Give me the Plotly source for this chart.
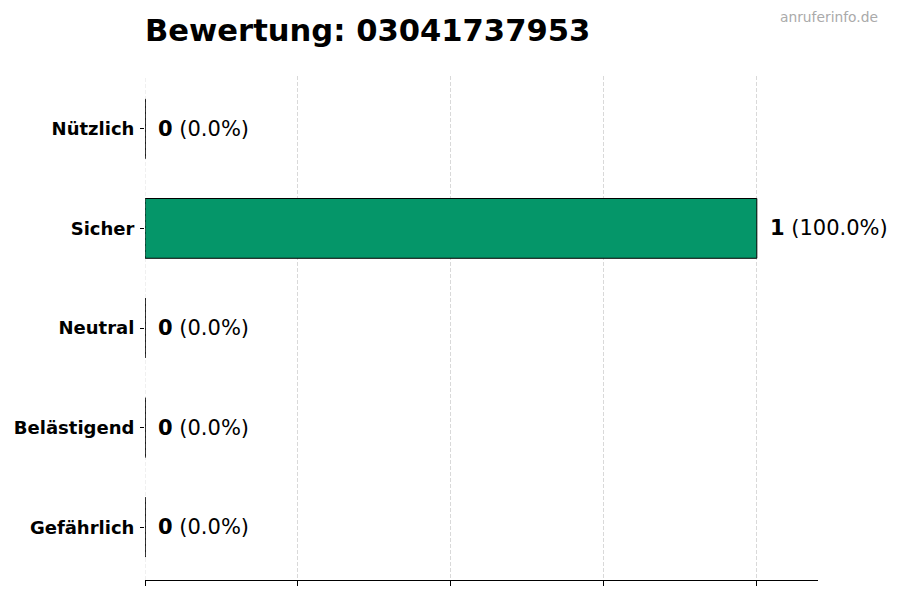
import plotly.graph_objects as go

# Data (top-to-bottom order as shown)
categories = ["Nützlich", "Sicher", "Neutral", "Belästigend", "Gefährlich"]
counts = [0, 1, 0, 0, 0]
percents = [0.0, 100.0, 0.0, 0.0, 0.0]
bar_colors = ["#3b82f6", "#059669", "#9ca3af", "#f59e0b", "#dc2626"]
x_ticks = [0, 0.25, 0.5, 0.75, 1.0]
title_text = "Bewertung: 03041737953"
watermark = "anruferinfo.de"

FONT = "DejaVu Sans"
BAR_W = 0.6
GRID = "rgba(170,170,170,0.45)"

n = len(categories)
ypos = [n - 1 - i for i in range(n)]

fig = go.Figure()
fig.add_trace(go.Bar(
    x=counts, y=ypos, orientation="h", width=BAR_W,
    marker=dict(color=bar_colors, line=dict(color="black", width=1)),
    hoverinfo="skip", showlegend=False,
))

# outlines of zero-width bars (matplotlib still draws their edge)
lx, ly = [], []
for v, y in zip(counts, ypos):
    if v == 0:
        lx += [v, v, None]
        ly += [y - BAR_W / 2, y + BAR_W / 2, None]
fig.add_trace(go.Scatter(x=lx, y=ly, mode="lines",
                         line=dict(color="black", width=1),
                         hoverinfo="skip", showlegend=False))

for v, p, y in zip(counts, percents, ypos):
    fig.add_annotation(x=v, y=y, xref="x", yref="y", xanchor="left",
                       yanchor="middle", xshift=11, showarrow=False,
                       text=f"<b>{v}</b> ({p:.1f}%)",
                       font=dict(family=FONT, size=21, color="black"))

# gridline at x = 0 (plotly omits the one on the range edge)
fig.add_shape(type="line", xref="x", yref="paper", x0=x_ticks[0], x1=x_ticks[0],
              y0=0, y1=1, layer="above",
              line=dict(color=GRID, width=0.8, dash="4px,2px"))

fig.add_annotation(xref="paper", yref="paper", x=1 + 62 / 673, y=1 + 59 / 504,
                   xanchor="right", yanchor="middle", showarrow=False,
                   text=watermark,
                   font=dict(family=FONT, size=13.8, color="#aaaaaa"))

# page body has an 8px margin, so the figure is shrunk by 8px
fig.update_layout(
    width=892, height=592,
    margin=dict(l=137, r=82, t=68, b=20, autoexpand=False),
    paper_bgcolor="white", plot_bgcolor="white",
    title=dict(text=f"<b>{title_text}</b>", x=137 / 892, xanchor="left",
               y=1 - 22 / 592, yanchor="middle",
               font=dict(family=FONT, size=30.6, color="black")),
    font=dict(family=FONT, color="black"),
    xaxis=dict(range=[0, 1.1], tickvals=x_ticks, showticklabels=False,
               ticks="outside", ticklen=5, tickcolor="black", tickwidth=1,
               showline=True, linecolor="black", linewidth=1,
               showgrid=True, gridcolor=GRID, griddash="4px,2px",
               gridwidth=0.8, zeroline=False, fixedrange=True,
               layer="above traces", automargin=False),
    yaxis=dict(range=[-0.53, n - 1 + 0.53], tickvals=ypos, ticktext=categories,
               ticks="outside", ticklen=4, tickcolor="black", tickwidth=1,
               showline=False, showgrid=False, zeroline=False,
               tickfont=dict(family=FONT, size=18, color="black", weight="bold"),
               ticklabelstandoff=2, fixedrange=True, automargin=False),
)

fig.write_html("out.html")
